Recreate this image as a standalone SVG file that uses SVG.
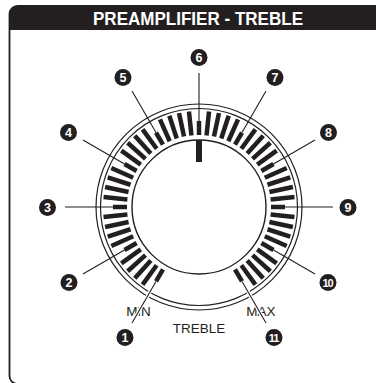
<svg xmlns="http://www.w3.org/2000/svg" xmlns:xlink="http://www.w3.org/1999/xlink" width="376" height="383" viewBox="0 0 376 383">
<style>
.tick{stroke:#231f20;stroke-width:4.5}
.ring{stroke:#231f20;stroke-width:1.2;fill:none}
.ldr{stroke:#231f20;stroke-width:1.1}
.halo{stroke:#fff;stroke-width:3.5}
.badge{fill:#231f20}
.num{font-family:"Liberation Sans",Arial,sans-serif;font-weight:bold;font-size:12.5px;fill:#fff;text-anchor:middle}
.num2{font-family:"Liberation Sans",Arial,sans-serif;font-weight:bold;font-size:11px;fill:#fff;text-anchor:middle;letter-spacing:-0.9px}
.lbl{font-family:"Liberation Sans",Arial,sans-serif;font-size:13.5px;fill:#231f20;text-anchor:middle}
</style>
<defs>
<line id="t" x1="199" y1="111" x2="199" y2="135"/>
<line id="ts" x1="199" y1="121" x2="199" y2="135"/>
<line id="ld" x1="199" y1="73" x2="199" y2="121"/>
</defs>
<rect width="376" height="383" fill="#fff"/>
<g id="frame">
<rect x="9.5" y="6" width="400" height="378" rx="8" fill="#fff" stroke="#231f20" stroke-width="1.8"/>
<path d="M9.5 30 V14 Q9.5 6 17.5 6 H376 V30 Z" fill="#231f20"/>
<text x="198" y="25" style="font-family:'Liberation Sans',Arial,sans-serif;font-weight:bold;font-size:17.5px;fill:#fff;text-anchor:middle" textLength="210" lengthAdjust="spacingAndGlyphs">PREAMPLIFIER - TREBLE</text>
</g>
<g id="knob">
<circle class="ring" cx="199" cy="207" r="103"/>
<circle class="ring" cx="199" cy="207" r="98.5"/>
<g class="tick">
<use xlink:href="#ts" transform="rotate(-150 199 207)"/>
<use xlink:href="#t" transform="rotate(-144 199 207)"/>
<use xlink:href="#t" transform="rotate(-138 199 207)"/>
<use xlink:href="#t" transform="rotate(-132 199 207)"/>
<use xlink:href="#t" transform="rotate(-126 199 207)"/>
<use xlink:href="#ts" transform="rotate(-120 199 207)"/>
<use xlink:href="#t" transform="rotate(-114 199 207)"/>
<use xlink:href="#t" transform="rotate(-108 199 207)"/>
<use xlink:href="#t" transform="rotate(-102 199 207)"/>
<use xlink:href="#t" transform="rotate(-96 199 207)"/>
<use xlink:href="#ts" transform="rotate(-90 199 207)"/>
<use xlink:href="#t" transform="rotate(-84 199 207)"/>
<use xlink:href="#t" transform="rotate(-78 199 207)"/>
<use xlink:href="#t" transform="rotate(-72 199 207)"/>
<use xlink:href="#t" transform="rotate(-66 199 207)"/>
<use xlink:href="#ts" transform="rotate(-60 199 207)"/>
<use xlink:href="#t" transform="rotate(-54 199 207)"/>
<use xlink:href="#t" transform="rotate(-48 199 207)"/>
<use xlink:href="#t" transform="rotate(-42 199 207)"/>
<use xlink:href="#t" transform="rotate(-36 199 207)"/>
<use xlink:href="#ts" transform="rotate(-30 199 207)"/>
<use xlink:href="#t" transform="rotate(-24 199 207)"/>
<use xlink:href="#t" transform="rotate(-18 199 207)"/>
<use xlink:href="#t" transform="rotate(-12 199 207)"/>
<use xlink:href="#t" transform="rotate(-6 199 207)"/>
<use xlink:href="#ts" transform="rotate(0 199 207)"/>
<use xlink:href="#t" transform="rotate(6 199 207)"/>
<use xlink:href="#t" transform="rotate(12 199 207)"/>
<use xlink:href="#t" transform="rotate(18 199 207)"/>
<use xlink:href="#t" transform="rotate(24 199 207)"/>
<use xlink:href="#ts" transform="rotate(30 199 207)"/>
<use xlink:href="#t" transform="rotate(36 199 207)"/>
<use xlink:href="#t" transform="rotate(42 199 207)"/>
<use xlink:href="#t" transform="rotate(48 199 207)"/>
<use xlink:href="#t" transform="rotate(54 199 207)"/>
<use xlink:href="#ts" transform="rotate(60 199 207)"/>
<use xlink:href="#t" transform="rotate(66 199 207)"/>
<use xlink:href="#t" transform="rotate(72 199 207)"/>
<use xlink:href="#t" transform="rotate(78 199 207)"/>
<use xlink:href="#t" transform="rotate(84 199 207)"/>
<use xlink:href="#ts" transform="rotate(90 199 207)"/>
<use xlink:href="#t" transform="rotate(96 199 207)"/>
<use xlink:href="#t" transform="rotate(102 199 207)"/>
<use xlink:href="#t" transform="rotate(108 199 207)"/>
<use xlink:href="#t" transform="rotate(114 199 207)"/>
<use xlink:href="#ts" transform="rotate(120 199 207)"/>
<use xlink:href="#t" transform="rotate(126 199 207)"/>
<use xlink:href="#t" transform="rotate(132 199 207)"/>
<use xlink:href="#t" transform="rotate(138 199 207)"/>
<use xlink:href="#t" transform="rotate(144 199 207)"/>
<use xlink:href="#ts" transform="rotate(150 199 207)"/>
</g>
<circle cx="199" cy="207" r="67" fill="#fff" stroke="#231f20" stroke-width="1.4"/>
<rect x="196" y="140" width="6" height="22" fill="#231f20"/>
<text class="lbl" x="138.5" y="315.5">MIN</text>
<text class="lbl" x="261" y="315.5">MAX</text>
<text class="lbl" x="199" y="332.5">TREBLE</text>
</g>
<g id="connectors">
<use class="halo" xlink:href="#ld" transform="rotate(-150 199 207)"/>
<use class="halo" xlink:href="#ld" transform="rotate(150 199 207)"/>
<use class="ldr" xlink:href="#ld" transform="rotate(-150 199 207)"/>
<use class="ldr" xlink:href="#ld" transform="rotate(-120 199 207)"/>
<use class="ldr" xlink:href="#ld" transform="rotate(-90 199 207)"/>
<use class="ldr" xlink:href="#ld" transform="rotate(-60 199 207)"/>
<use class="ldr" xlink:href="#ld" transform="rotate(-30 199 207)"/>
<use class="ldr" xlink:href="#ld" transform="rotate(0 199 207)"/>
<use class="ldr" xlink:href="#ld" transform="rotate(30 199 207)"/>
<use class="ldr" xlink:href="#ld" transform="rotate(60 199 207)"/>
<use class="ldr" xlink:href="#ld" transform="rotate(90 199 207)"/>
<use class="ldr" xlink:href="#ld" transform="rotate(120 199 207)"/>
<use class="ldr" xlink:href="#ld" transform="rotate(150 199 207)"/>
</g>
<g id="b1"><circle class="badge" cx="125" cy="337.5" r="8.5"/><text class="num" x="125" y="342">1</text></g>
<g id="b2"><circle class="badge" cx="69" cy="282.5" r="8.5"/><text class="num" x="69" y="287">2</text></g>
<g id="b3"><circle class="badge" cx="47.5" cy="207.5" r="8.5"/><text class="num" x="47.5" y="212">3</text></g>
<g id="b4"><circle class="badge" cx="68.5" cy="132.5" r="8.5"/><text class="num" x="68.5" y="137">4</text></g>
<g id="b5"><circle class="badge" cx="123" cy="77.5" r="8.5"/><text class="num" x="123" y="82">5</text></g>
<g id="b6"><circle class="badge" cx="199" cy="57.5" r="8.5"/><text class="num" x="199" y="62">6</text></g>
<g id="b7"><circle class="badge" cx="275" cy="77.5" r="8.5"/><text class="num" x="275" y="82">7</text></g>
<g id="b8"><circle class="badge" cx="328.5" cy="132.5" r="8.5"/><text class="num" x="328.5" y="137">8</text></g>
<g id="b9"><circle class="badge" cx="348" cy="207.5" r="8.5"/><text class="num" x="348" y="212">9</text></g>
<g id="b10"><circle class="badge" cx="328" cy="282.5" r="8.5"/><text class="num2" x="327.6" y="286.5">10</text></g>
<g id="b11"><circle class="badge" cx="274" cy="337.5" r="8.5"/><text class="num2" x="273.6" y="341.5">11</text></g>
</svg>
